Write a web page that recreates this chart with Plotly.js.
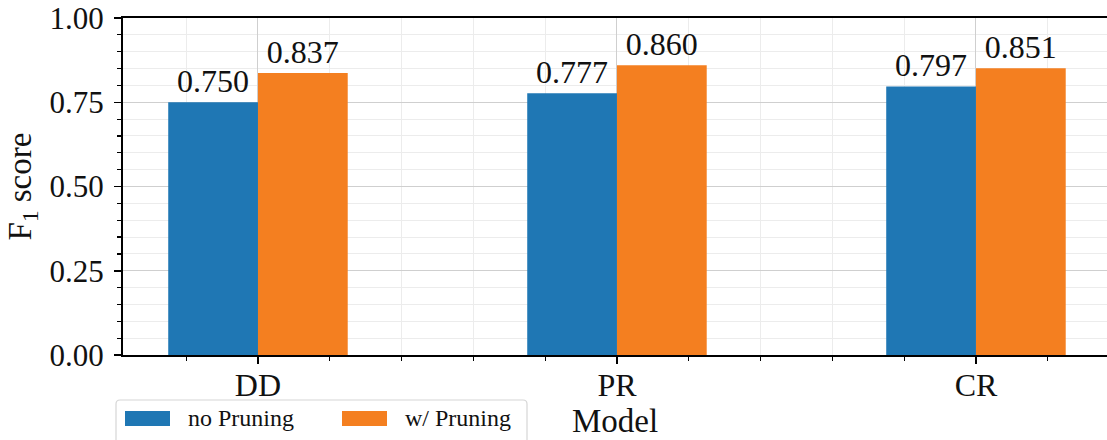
<!DOCTYPE html>
<html>
<head>
<meta charset="utf-8">
<script src="https://cdn.plot.ly/plotly-3.0.1.min.js"></script>
<style>
  html, body { margin: 0; padding: 0; background: #ffffff; }
  #chart { width: 1107px; height: 440px; }
</style>
</head>
<body>
<div id="chart"></div>
<script>
// Model names and F1 scores with and without pruning
const models = ['DD', 'PR', 'CR'];
const modelPos = [0, 1, 2];
const noPruning = [0.750, 0.777, 0.797];
const withPruning = [0.837, 0.860, 0.851];
const seriesNames = ['no Pruning', 'w/ Pruning'];
const yTicks = [0, 0.25, 0.5, 0.75, 1.0];

const BLUE = '#1f77b4';
const ORANGE = '#f47f20';
const FONT = '"Liberation Serif", "DejaVu Serif", serif';

const W = 1107, H = 440;
const M = { l: 123, r: 0, t: 18, b: 85 };
const plotW = W - M.l - M.r, plotH = H - M.t - M.b;
// pixel -> paper helpers for the hand-placed legend
const px = x => (x - M.l) / plotW;
const py = y => (H - M.b - y) / plotH;

const fmt = v => v.toFixed(3);

const traces = [
  {
    type: 'bar', name: seriesNames[0], x: modelPos, y: noPruning,
    marker: { color: BLUE, line: { width: 0 } },
    text: noPruning.map(fmt), textposition: 'outside',
    textfont: { family: FONT, size: 32, color: '#111' },
    showlegend: false, hoverinfo: 'y'
  },
  {
    type: 'bar', name: seriesNames[1], x: modelPos, y: withPruning,
    marker: { color: ORANGE, line: { width: 0 } },
    text: withPruning.map(fmt), textposition: 'outside',
    textfont: { family: FONT, size: 32, color: '#111' },
    showlegend: false, hoverinfo: 'y'
  }
];

// legend box with rounded corners
const lx0 = 116, lx1 = 527, ly0 = 400, ly1 = 446, rad = 4;
const legendPath = [
  `M ${px(lx0 + rad)} ${py(ly0)}`,
  `L ${px(lx1 - rad)} ${py(ly0)}`,
  `Q ${px(lx1)} ${py(ly0)} ${px(lx1)} ${py(ly0 + rad)}`,
  `L ${px(lx1)} ${py(ly1)}`,
  `L ${px(lx0)} ${py(ly1)}`,
  `L ${px(lx0)} ${py(ly0 + rad)}`,
  `Q ${px(lx0)} ${py(ly0)} ${px(lx0 + rad)} ${py(ly0)}`,
  'Z'
].join(' ');

const shapes = [
  { type: 'path', xref: 'paper', yref: 'paper', path: legendPath,
    line: { color: '#d6d6d6', width: 1.2 }, fillcolor: 'rgba(255,255,255,0.85)', layer: 'above' },
  { type: 'rect', xref: 'paper', yref: 'paper',
    x0: px(125), x1: px(170), y0: py(411), y1: py(426),
    line: { width: 0 }, fillcolor: BLUE, layer: 'above' },
  { type: 'rect', xref: 'paper', yref: 'paper',
    x0: px(342), x1: px(387), y0: py(411), y1: py(426),
    line: { width: 0 }, fillcolor: ORANGE, layer: 'above' }
];

const annotations = [
  { xref: 'paper', yref: 'paper', x: px(186), y: py(418), xanchor: 'left', yanchor: 'middle',
    text: seriesNames[0], showarrow: false, font: { family: FONT, size: 24, color: '#111' } },
  { xref: 'paper', yref: 'paper', x: px(403), y: py(418), xanchor: 'left', yanchor: 'middle',
    text: seriesNames[1], showarrow: false, font: { family: FONT, size: 24, color: '#111' } }
];

const layout = {
  width: W, height: H,
  margin: M,
  paper_bgcolor: '#ffffff', plot_bgcolor: '#ffffff',
  font: { family: FONT, color: '#111' },
  barmode: 'group', bargap: 0.5, bargroupgap: 0,
  showlegend: false,
  xaxis: {
    range: [-0.376, 2.365],
    tickmode: 'array', tickvals: modelPos, ticktext: models,
    ticks: 'outside', ticklen: 7, tickwidth: 1.5, tickcolor: '#000',
    ticklabelstandoff: -6,
    tickfont: { family: FONT, size: 32, color: '#111' },
    showline: true, linecolor: '#000', linewidth: 2, mirror: true,
    showgrid: true, gridcolor: '#cfcfcf', gridwidth: 1,
    zeroline: false,
    minor: { tickmode: 'linear', tick0: 0, dtick: 0.2, ticks: 'outside', ticklen: 4,
             tickwidth: 1.2, tickcolor: '#000', showgrid: true, gridcolor: '#ececec', gridwidth: 1 },
    title: { text: 'Model', font: { family: FONT, size: 33, color: '#111' }, standoff: 6 }
  },
  yaxis: {
    range: [0, 1.0],
    tickmode: 'array', tickvals: yTicks, tickformat: '.2f',
    ticks: 'outside', ticklen: 7, tickwidth: 1.5, tickcolor: '#000',
    ticklabelstandoff: 4,
    tickfont: { family: FONT, size: 31, color: '#111' },
    showline: true, linecolor: '#000', linewidth: 2, mirror: false,
    showgrid: true, gridcolor: '#cfcfcf', gridwidth: 1,
    zeroline: false,
    minor: { tickmode: 'linear', tick0: 0, dtick: 0.05, ticks: 'outside', ticklen: 4,
             tickwidth: 1.2, tickcolor: '#000', showgrid: true, gridcolor: '#ececec', gridwidth: 1 },
    title: { text: 'F<sub>1</sub> score', font: { family: FONT, size: 33, color: '#111' }, standoff: 8 }
  },
  shapes: shapes,
  annotations: annotations
};

Plotly.newPlot('chart', traces, layout, { displayModeBar: false, staticPlot: true });
</script>
</body>
</html>
